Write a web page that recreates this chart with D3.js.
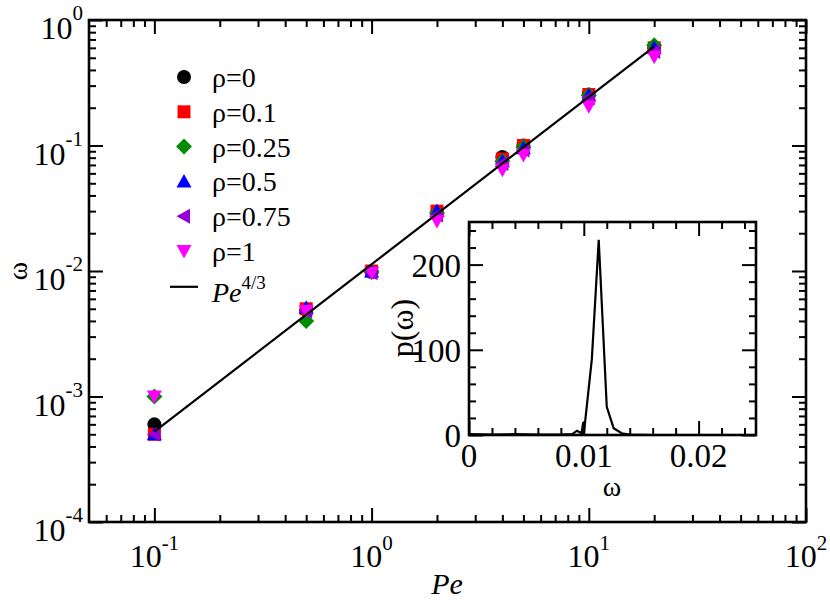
<!DOCTYPE html>
<html>
<head>
    <meta charset="utf-8" />
    <script src="https://d3js.org/d3.v7.min.js"></script>
    <style>
        body { margin: 0; background: #fff; }
    </style>
</head>
<body>
<svg id="chart" width="830" height="600"></svg>
<script>
    // data
    var peValues = [0.1, 0.5, 1, 2, 4, 5, 10, 20];
    var rhoLabels = ["ρ=0", "ρ=0.1", "ρ=0.25", "ρ=0.5", "ρ=0.75", "ρ=1"];
    var omegaRho0 = [0.0006, 0.0049, 0.0098, 0.029, 0.081, 0.100, 0.255, 0.60];
    var omegaRho01 = [0.0005, 0.0050, 0.0100, 0.030, 0.078, 0.100, 0.255, 0.60];
    var omegaRho025 = [0.0010, 0.0040, 0.0098, 0.029, 0.075, 0.097, 0.250, 0.63];
    var omegaRho05 = [0.0005, 0.0051, 0.0099, 0.030, 0.075, 0.095, 0.250, 0.60];
    var omegaRho075 = [0.0005, 0.0048, 0.0097, 0.028, 0.072, 0.092, 0.240, 0.56];
    var omegaRho1 = [0.0010, 0.0048, 0.0097, 0.025, 0.064, 0.084, 0.205, 0.51];
    var fitPe = [0.1, 20];
    var fitOmega = [0.000525, 0.614];

    // inset: distribution p(omega)
    var insetOmega = [0, 0.002, 0.004, 0.006, 0.008, 0.009, 0.0094, 0.0098, 0.00995, 0.0100, 0.0107, 0.0113, 0.0120, 0.0126, 0.0133, 0.0140, 0.016, 0.025];
    var insetP = [1, 0.5, 1, 0.5, 0.5, 1, 5, 2, 15, 1, 89, 229, 33, 8, 2, 0.5, 0, 0];

    // tick labels
    var xTickExps = ["-1", "0", "1", "2"];
    var yTickExps = ["-4", "-3", "-2", "-1", "0"];
    var insetXTicks = ["0", "0.01", "0.02"];
    var insetYTicks = ["0", "100", "200"];

    var series = [omegaRho0, omegaRho01, omegaRho025, omegaRho05, omegaRho075, omegaRho1];
    var colours = ["#000000", "#ff0000", "#008b00", "#0000ff", "#9400d3", "#ff00ff"];
    var shapes = ["circle", "square", "diamond", "up", "left", "down"];
    var serif = "'Liberation Serif', 'Times New Roman', Times, 'DejaVu Serif', serif";

    var svg = d3.select("#chart");

    // main plot area
    var x = d3.scaleLog().domain([0.05, 100]).range([89, 806]);
    var y = d3.scaleLog().domain([1e-4, 1]).range([522, 20]);

    function shapePath(s) {
        if (s == "circle") return "M7,0A7,7 0 1,1 -7,0A7,7 0 1,1 7,0Z";
        if (s == "square") return "M-6.5,-6.5H6.5V6.5H-6.5Z";
        if (s == "diamond") return "M0,-8L8,0L0,8L-8,0Z";
        if (s == "up") return "M0,-7.5L7.5,6L-7.5,6Z";
        if (s == "left") return "M-7.5,0L6,-7.5L6,7.5Z";
        return "M0,7.5L7.5,-6L-7.5,-6Z";
    }

    function label(xp, yp, size, anchor) {
        return svg.append("text")
            .attr("x", xp).attr("y", yp)
            .attr("text-anchor", anchor)
            .style("font-family", serif)
            .style("font-size", size + "px");
    }

    svg.append("rect")
        .attr("x", 89).attr("y", 20)
        .attr("width", 806 - 89).attr("height", 522 - 20)
        .attr("fill", "#fff");

    // markers
    series.forEach(function (vals, i) {
        svg.append("g").selectAll("path")
            .data(vals)
            .enter().append("path")
            .attr("d", shapePath(shapes[i]))
            .attr("transform", function (d, j) { return "translate(" + x(peValues[j]) + "," + y(d) + ")"; })
            .attr("fill", colours[i]);
    });

    // Pe^{4/3} line
    var line = d3.line()
        .x(function (d, i) { return x(fitPe[i]); })
        .y(function (d) { return y(d); });
    svg.append("path")
        .attr("d", line(fitOmega))
        .attr("fill", "none")
        .attr("stroke", "#000")
        .attr("stroke-width", 2.2);

    // ticks (inward, on all four sides)
    function addTicks(axisFn, scale, values, size, tx, ty) {
        var g = svg.append("g")
            .attr("transform", "translate(" + tx + "," + ty + ")")
            .call(axisFn(scale).tickValues(values).tickSize(size).tickFormat(""));
        g.select(".domain").remove();
        g.selectAll("line").attr("stroke", "#000").attr("stroke-width", 2);
    }

    var xMajor = [0.1, 1, 10, 100];
    var xMinor = [];
    [0.01, 0.1, 1, 10].forEach(function (dec) {
        for (var k = 2; k <= 9; k++) {
            var v = k * dec;
            if (v > 0.051 && v < 100) xMinor.push(v);
        }
    });
    var yMajor = [1e-4, 1e-3, 1e-2, 1e-1, 1];
    var yMinor = [];
    [1e-4, 1e-3, 1e-2, 1e-1].forEach(function (dec) {
        for (var k = 2; k <= 9; k++) yMinor.push(k * dec);
    });

    addTicks(d3.axisBottom, x, xMajor, -14, 0, 522);
    addTicks(d3.axisBottom, x, xMinor, -7, 0, 522);
    addTicks(d3.axisTop, x, xMajor, -14, 0, 20);
    addTicks(d3.axisTop, x, xMinor, -7, 0, 20);
    addTicks(d3.axisLeft, y, yMajor, -14, 89, 0);
    addTicks(d3.axisLeft, y, yMinor, -7, 89, 0);
    addTicks(d3.axisRight, y, yMajor, -14, 806, 0);
    addTicks(d3.axisRight, y, yMinor, -7, 806, 0);

    svg.append("rect")
        .attr("x", 89).attr("y", 20)
        .attr("width", 806 - 89).attr("height", 522 - 20)
        .attr("fill", "none")
        .attr("stroke", "#000")
        .attr("stroke-width", 2.6);

    // tick labels with exponents
    xMajor.forEach(function (v, i) {
        var t = label(x(v), 567, 32, "middle");
        t.append("tspan").text("10");
        t.append("tspan").attr("dy", -17).style("font-size", "21px").text(xTickExps[i]);
    });
    yMajor.forEach(function (v, i) {
        var t = label(83, y(v) + 19, 32, "end");
        t.append("tspan").text("10");
        t.append("tspan").attr("dy", -19).style("font-size", "21px").text(yTickExps[i]);
    });

    // axis titles
    label(447, 594, 30, "middle")
        .style("font-style", "italic")
        .text("Pe");
    label(0, 0, 28, "middle")
        .attr("transform", "translate(27,271) rotate(-90)")
        .text("ω");

    // legend
    rhoLabels.forEach(function (lab, i) {
        var cy = 77 + i * 34.8;
        svg.append("path")
            .attr("d", shapePath(shapes[i]))
            .attr("transform", "translate(184," + cy + ")")
            .attr("fill", colours[i]);
        label(212, cy + 10, 28, "start").text(lab);
    });
    var ly = 77 + 6 * 34.8;
    svg.append("line")
        .attr("x1", 170).attr("x2", 198)
        .attr("y1", ly + 1).attr("y2", ly + 1)
        .attr("stroke", "#000").attr("stroke-width", 2.2);
    var pe = label(212, ly + 16, 28, "start");
    pe.append("tspan").style("font-style", "italic").text("Pe");
    pe.append("tspan").attr("dy", -13).style("font-size", "19px").text("4/3");

    // inset
    var ix = d3.scaleLinear().domain([0, 0.025]).range([469, 756]);
    var iy = d3.scaleLinear().domain([0, 250]).range([435, 222]);

    svg.append("rect")
        .attr("x", 469).attr("y", 222)
        .attr("width", 756 - 469).attr("height", 435 - 222)
        .attr("fill", "#fff");

    var insetLine = d3.line()
        .x(function (d, i) { return ix(insetOmega[i]); })
        .y(function (d) { return iy(d); });
    svg.append("path")
        .attr("d", insetLine(insetP))
        .attr("fill", "none")
        .attr("stroke", "#000")
        .attr("stroke-width", 2.2);

    var ixMajor = [0, 0.01, 0.02];
    var ixMinor = d3.range(0.002, 0.025, 0.002).filter(function (v) { return Math.abs(v - 0.01) > 1e-6 && Math.abs(v - 0.02) > 1e-6; });
    var iyMajor = [0, 100, 200];
    var iyMinor = d3.range(20, 250, 20).filter(function (v) { return v % 100 != 0; });

    addTicks(d3.axisBottom, ix, ixMajor, -14, 0, 435);
    addTicks(d3.axisBottom, ix, ixMinor, -7, 0, 435);
    addTicks(d3.axisTop, ix, ixMajor, -14, 0, 222);
    addTicks(d3.axisTop, ix, ixMinor, -7, 0, 222);
    addTicks(d3.axisLeft, iy, iyMajor, -14, 469, 0);
    addTicks(d3.axisLeft, iy, iyMinor, -7, 469, 0);
    addTicks(d3.axisRight, iy, iyMajor, -14, 756, 0);
    addTicks(d3.axisRight, iy, iyMinor, -7, 756, 0);

    svg.append("rect")
        .attr("x", 469).attr("y", 222)
        .attr("width", 756 - 469).attr("height", 435 - 222)
        .attr("fill", "none")
        .attr("stroke", "#000")
        .attr("stroke-width", 2.6);

    ixMajor.forEach(function (v, i) {
        label(ix(v), 467, 33, "middle").text(insetXTicks[i]);
    });
    iyMajor.forEach(function (v, i) {
        label(461, iy(v) + 12, 33, "end").text(insetYTicks[i]);
    });
    label(612, 496, 28, "middle").text("ω");
    label(0, 0, 32, "middle")
        .attr("transform", "translate(413,328) rotate(-90)")
        .text("p(ω)");
</script>
</body>
</html>
